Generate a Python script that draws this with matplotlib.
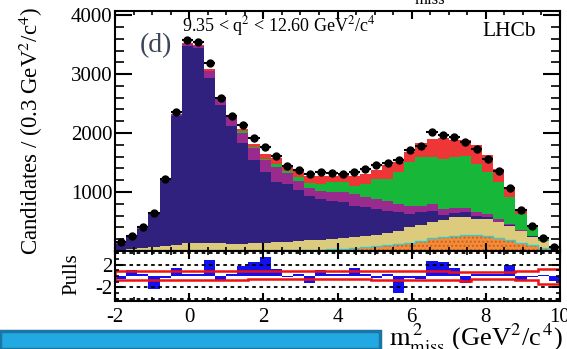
"""LHCb m2_miss fit, q2 bin (d), with pull panel."""

import matplotlib.pyplot as plt
import numpy as np
from matplotlib.patches import Rectangle
from matplotlib.ticker import FixedLocator, MultipleLocator

W, H = 567, 349

# 40 bins of 0.3 GeV^2/c^4 between -2 and 10
bin_edges = np.linspace(-2.0, 10.0, 41)

data_counts = [
    155, 256, 400, 645, 1225, 2360, 3570, 3540, 3190, 2590,
    2290, 2130, 1920, 1770, 1610, 1440, 1370, 1300, 1340, 1320,
    1310, 1345, 1385, 1450, 1500, 1540, 1705, 1785, 2010, 1960,
    1940, 1840, 1730, 1560, 1350, 1070, 700, 425, 220, 70,
]

# cumulative tops of the fit components (stacked, bottom to top)
orange_top = [
    0, 0, 0, 0, 0, 0, 0, 0, 0, 0,
    0, 0, 0, 0, 5, 10, 15, 20, 25, 30,
    40, 50, 60, 80, 100, 120, 140, 170, 220, 240,
    260, 270, 265, 250, 225, 180, 140, 100, 50, 15,
]
tan_top = [
    20, 30, 45, 60, 80, 110, 130, 140, 140, 130,
    120, 120, 130, 140, 150, 160, 170, 180, 190, 200,
    215, 230, 250, 270, 300, 340, 400, 440, 485, 525,
    570, 575, 550, 540, 495, 430, 340, 245, 170, 50,
]
indigo_top = [
    120, 230, 380, 620, 1200, 2290, 3470, 3440, 2940, 2480,
    2120, 1830, 1540, 1340, 1170, 1130, 1030, 925, 880, 855,
    830, 770, 740, 710, 685, 655, 630, 655, 685, 615,
    640, 655, 600, 570, 495, 435, 345, 250, 172, 52,
]
purple_top = [
    125, 235, 385, 630, 1210, 2320, 3510, 3480, 3060, 2585,
    2280, 2000, 1740, 1540, 1420, 1320, 1185, 1070, 1025, 1000,
    1000, 975, 910, 885, 855, 800, 770, 770, 800, 715,
    730, 730, 655, 630, 550, 465, 350, 255, 175, 55,
]
green_top = [
    125, 235, 385, 630, 1210, 2320, 3510, 3480, 3060, 2590,
    2290, 2030, 1770, 1560, 1470, 1360, 1250, 1150, 1140, 1170,
    1170, 1110, 1140, 1225, 1225, 1340, 1510, 1600, 1600, 1560,
    1600, 1610, 1480, 1340, 1170, 910, 630, 430, 225, 60,
]
red_top = [
    130, 240, 390, 640, 1220, 2330, 3520, 3490, 3080, 2600,
    2300, 2070, 1820, 1640, 1570, 1450, 1355, 1280, 1265, 1280,
    1300, 1280, 1310, 1370, 1450, 1510, 1680, 1830, 1900, 1920,
    1880, 1880, 1795, 1625, 1395, 1055, 700, 445, 225, 60,
]

pulls = [
    -0.6, 1.1, 0.4, -2.3, -0.3, 1.4, 0.4, 0.3, 2.7, -0.7,
    0.3, 1.7, 2.5, 3.3, 1.2, -0.2, 0.4, -1.2, 1.1, 0.4,
    0.3, 1.4, 0.4, -0.3, 0.3, -2.9, -0.4, -0.5, 2.6, 2.4,
    1.4, -1.3, 0.4, 0.4, 0.4, 2.0, -0.8, -0.2, 0.1, -0.9,
]
band_upper = [
    0.9, 0.9, 0.9, 0.9, 0.9, 0.9, 0.9, 0.9, 0.9, 0.9,
    0.9, 0.9, 0.9, 0.9, 0.9, 0.9, 0.9, 0.9, 0.9, 0.9,
    0.9, 0.9, 0.9, 0.9, 0.9, 0.9, 0.9, 0.8, 0.8, 0.8,
    0.7, 0.7, 0.7, 0.7, 0.7, 0.7, 0.9, 0.9, 1.3, 1.3,
]
band_lower = [
    -0.75, -0.75, -0.75, -0.75, -0.75, -0.75, -0.75, -0.75, -0.75, -0.75,
    -0.75, -0.75, -0.6, -0.6, -0.6, -0.6, -0.6, -0.6, -0.6, -0.6,
    -0.6, -0.6, -0.6, -0.65, -0.65, -0.65, -0.65, -0.65, -0.65, -0.65,
    -0.65, -0.9, -0.6, -0.6, -0.6, -0.6, -0.75, -0.75, -1.35, -1.35,
]

COLORS = {
    "red": "#ee3636",
    "green": "#17b83a",
    "purple": "#992a8e",
    "indigo": "#31217f",
    "tan": "#dccb7c",
    "orange": "#f38c3a",
}

plt.rcParams.update(
    {
        "font.family": ["Liberation Serif", "DejaVu Serif"],
        "mathtext.fontset": "stix",
        "axes.linewidth": 1.5,
    }
)


def fx(px: float) -> float:
    return px / W


def fy(py: float) -> float:
    return 1 - py / H


fig = plt.figure(figsize=(W / 100, H / 100), dpi=100)
ax = fig.add_axes([fx(115), fy(251), (560 - 115) / W, (251 - 11) / H])
axp = fig.add_axes([fx(115), fy(301), (560 - 115) / W, (301 - 251) / H])

centers = 0.5 * (bin_edges[:-1] + bin_edges[1:])

# stacked components, drawn from the total down
ax.stairs(red_top, bin_edges, fill=True, color=COLORS["red"], lw=0)
ax.stairs(green_top, bin_edges, fill=True, color=COLORS["green"], lw=0)
ax.stairs(purple_top, bin_edges, fill=True, color=COLORS["purple"], lw=0)
ax.stairs(indigo_top, bin_edges, fill=True, color=COLORS["indigo"], lw=0)
ax.stairs(tan_top, bin_edges, fill=True, color=COLORS["tan"], lw=0)
ax.stairs(orange_top, bin_edges, fill=True, facecolor=COLORS["orange"],
          edgecolor="#d0601a", hatch="....", lw=0)
ax.stairs(orange_top, bin_edges, fill=False, color="#3cc8c8", lw=1.0)

counts = np.array(data_counts, dtype=float)
ax.errorbar(centers, counts, xerr=0.15, yerr=np.sqrt(counts), fmt="o",
            color="black", ms=5, elinewidth=1.5, capsize=0, zorder=5)

ax.set_xlim(-2, 10)
ax.set_ylim(0, 4070)
ax.yaxis.set_major_locator(FixedLocator([1000, 2000, 3000, 4000]))
ax.yaxis.set_minor_locator(MultipleLocator(200))
ax.xaxis.set_major_locator(MultipleLocator(2))
ax.xaxis.set_minor_locator(MultipleLocator(0.5))
ax.tick_params(axis="y", which="major", direction="in", length=12.5, width=1.5,
               right=True, labelsize=15, pad=2)
ax.tick_params(axis="y", which="minor", direction="in", length=6.5, width=1.2,
               right=True)
ax.tick_params(axis="x", which="major", direction="in", length=5.8, width=1.5,
               top=True, labelbottom=False)
ax.tick_params(axis="x", which="minor", direction="in", length=3, width=1.2,
               top=True)

# pull panel
axp.bar(centers, pulls, width=0.3, color="#1010f0", lw=0)
for lvl in (-4, -2, 2, 4):
    axp.axhline(lvl, color="black", lw=1.3, ls=(0, (2, 2)))
axp.stairs(band_upper, bin_edges, color="#f01010", lw=1.8)
axp.stairs(band_lower, bin_edges, color="#f01010", lw=1.8)
axp.set_xlim(-2, 10)
axp.set_ylim(-4.35, 4.35)
axp.yaxis.set_major_locator(FixedLocator([-2, 2]))
axp.yaxis.set_minor_locator(MultipleLocator(1))
axp.xaxis.set_major_locator(MultipleLocator(2))
axp.xaxis.set_minor_locator(MultipleLocator(0.5))
axp.set_yticklabels(["-2", "2"])
axp.tick_params(axis="y", which="major", direction="in", length=6, width=1.5,
                right=True, labelsize=15, pad=2)
axp.tick_params(axis="y", which="minor", direction="in", length=3, width=1.2,
                right=True)
axp.tick_params(axis="x", which="major", direction="in", length=5.8, width=1.5,
                top=True, labelsize=15, pad=5)
axp.tick_params(axis="x", which="minor", direction="in", length=3, width=1.2,
                top=True)
axp.set_xticks(np.arange(-2, 11, 2))
axp.set_xticklabels(["-2", "0", "2", "4", "6", "8", "10"])

# labels and annotations
fig.text(fx(31), fy(131), r"Candidates / (0.3 GeV$^{2}$/c$^{4}$)", rotation=90,
         ha="center", va="center", fontsize=16.5)
fig.text(fx(72), fy(274), "Pulls", rotation=90, ha="center", va="center",
         fontsize=15)
fig.text(fx(563), fy(346), r"$\mathrm{m}^{\,2}_{\mathrm{miss}}$ (GeV$^{2}$/c$^{\,4}$)",
         ha="right", va="baseline", fontsize=19)
fig.text(fx(182), fy(31), r"9.35 < q$^{2}$ < 12.60 GeV$^{2}$/c$^{4}$",
         ha="left", va="baseline", fontsize=13)
fig.text(fx(140), fy(52), "(d)", ha="left", va="baseline", fontsize=20,
         color="#3d4658")
fig.text(fx(482), fy(36), "LHCb", ha="left", va="baseline", fontsize=15.5)
fig.text(fx(415), fy(4), "miss", ha="left", va="baseline", fontsize=12)

# slide banner along the bottom edge
fig.add_artist(Rectangle((0, 0), fx(380), 18 / H, transform=fig.transFigure,
                         facecolor="#22a9e1", edgecolor="#1b76a6", lw=2.5,
                         zorder=-1))

fig.savefig("out.png", dpi=100, facecolor="white")
